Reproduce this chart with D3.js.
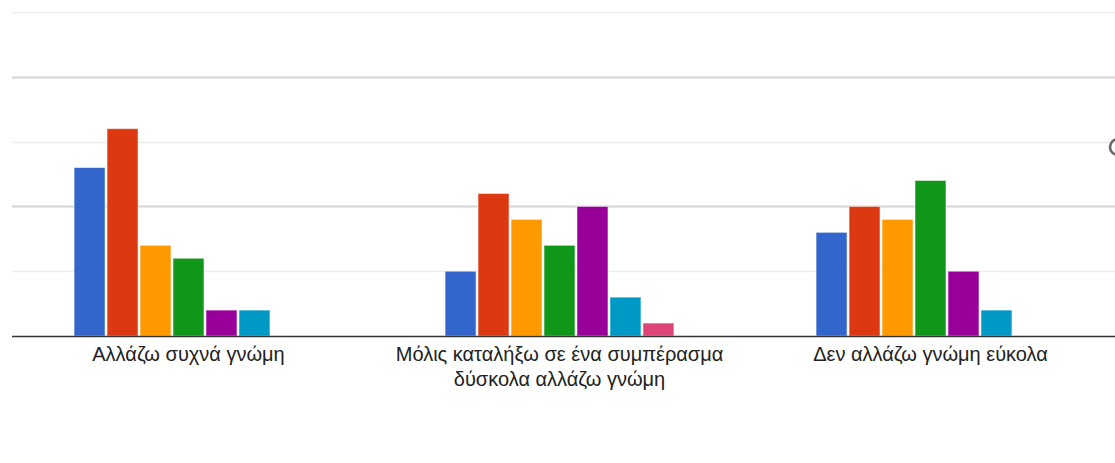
<!DOCTYPE html>
<html>
<head>
<meta charset="utf-8">
<script src="https://cdnjs.cloudflare.com/ajax/libs/d3/7.8.5/d3.min.js"></script>
<style>
	html, body { margin: 0; padding: 0; background: #fff; }
	svg { display: block; font-family: Arial, "Liberation Sans", sans-serif; }
	.label { fill: #222; font-size: 20px; }
</style>
</head>
<body>
<script>
// categories (x axis), one label line per array entry
var categories = [
	['Αλλάζω συχνά γνώμη'],
	['Μόλις καταλήξω σε ένα συμπέρασμα', 'δύσκολα αλλάζω γνώμη'],
	['Δεν αλλάζω γνώμη εύκολα']
];
var series = ['1', '2', '3', '4', '5', '6', '7'];
var colors = ['#3366cc', '#dc3912', '#ff9900', '#109618', '#990099', '#0099c6', '#dd4477'];
// counts per category, in series order
var values = [
	[13, 16, 7, 6, 2, 2, 0],
	[5, 11, 9, 7, 10, 3, 1],
	[8, 10, 9, 12, 5, 2, 0]
];
var yTicks = [5, 10, 15, 20, 25];
var majorTicks = [10, 20];

var width = 1115,
	height = 463,
	plotLeft = 12,
	plotTop = 12,
	plotBottom = 336;

var svg = d3.select('body')
	.append('svg')
	.attr('width', width)
	.attr('height', height);

var x0 = d3.scaleBand()
	.domain(d3.range(categories.length))
	.range([3, 1116])
	.paddingInner(0.383)
	.paddingOuter(0.1915);

var x1 = d3.scaleBand()
	.domain(series)
	.range([0, x0.bandwidth()])
	.paddingInner(0.06);

var y = d3.scaleLinear()
	.domain([0, 25])
	.range([plotBottom, plotTop]);

// gridlines
svg.append('g')
	.selectAll('line')
	.data(yTicks)
	.enter()
	.append('line')
	.attr('x1', plotLeft)
	.attr('x2', width)
	.attr('y1', function(d) { return Math.round(y(d)) + 0.5; })
	.attr('y2', function(d) { return Math.round(y(d)) + 0.5; })
	.attr('stroke', function(d) { return majorTicks.indexOf(d) >= 0 ? '#d4d4d4' : '#ececec'; })
	.attr('stroke-width', function(d) { return majorTicks.indexOf(d) >= 0 ? 2 : 1.5; });

// bars
var groups = svg.append('g')
	.selectAll('g')
	.data(values)
	.enter()
	.append('g')
	.attr('transform', function(d, i) { return 'translate(' + x0(i) + ',0)'; });

groups.selectAll('rect')
	.data(function(d) {
		return d.map(function(v, j) { return { s: series[j], v: v, c: colors[j] }; });
	})
	.enter()
	.append('rect')
	.filter(function(d) { return d.v > 0; })
	.attr('x', function(d) { return x1(d.s); })
	.attr('y', function(d) { return y(d.v); })
	.attr('width', x1.bandwidth())
	.attr('height', function(d) { return plotBottom - y(d.v); })
	.attr('fill', function(d) { return d.c; })
	.attr('stroke', '#fff')
	.attr('stroke-opacity', 0.55)
	.attr('stroke-width', 1);

// baseline
svg.append('line')
	.attr('x1', plotLeft)
	.attr('x2', width)
	.attr('y1', plotBottom + 0.5)
	.attr('y2', plotBottom + 0.5)
	.attr('stroke', '#333')
	.attr('stroke-width', 1.5);

// category labels
var labels = svg.append('g')
	.selectAll('text')
	.data(categories)
	.enter()
	.append('text')
	.attr('class', 'label')
	.attr('text-anchor', 'middle')
	.attr('x', function(d, i) { return x0(i) + x0.bandwidth() / 2; })
	.attr('y', 361);

labels.selectAll('tspan')
	.data(function(d) { return d; })
	.enter()
	.append('tspan')
	.attr('x', function() { return d3.select(this.parentNode).attr('x'); })
	.attr('dy', function(d, i) { return i === 0 ? 0 : 25; })
	.text(function(d) { return d; });

// cropped legend marker at the right edge
svg.append('circle')
	.attr('cx', 1118)
	.attr('cy', 147)
	.attr('r', 8)
	.attr('fill', 'none')
	.attr('stroke', '#666')
	.attr('stroke-width', 2.5);
</script>
</body>
</html>
